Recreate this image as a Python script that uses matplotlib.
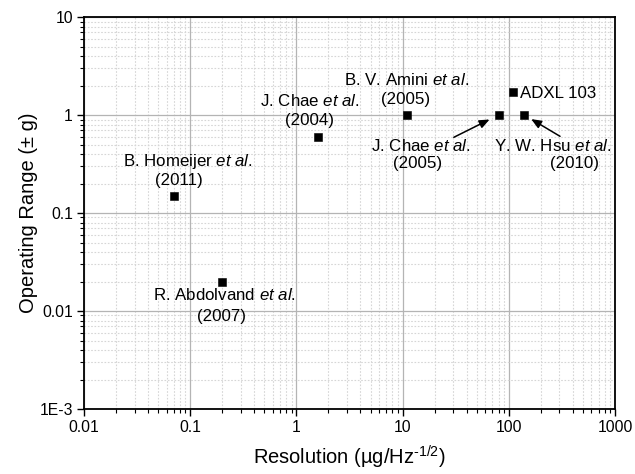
import matplotlib
matplotlib.use("Agg")
import matplotlib.pyplot as plt
from matplotlib.ticker import LogLocator, FixedLocator, FixedFormatter, NullFormatter

plt.rcParams["font.family"] = ["Liberation Sans", "DejaVu Sans"]
plt.rcParams["mathtext.fontset"] = "custom"
plt.rcParams["mathtext.rm"] = "Liberation Sans"
plt.rcParams["mathtext.it"] = "Liberation Sans:italic"
plt.rcParams["mathtext.bf"] = "Liberation Sans:bold"

# Accelerator survey: noise resolution vs. operating range
names = ["B. Homeijer", "R. Abdolvand", "J. Chae", "B. V. Amini",
         "J. Chae", "ADXL 103", "Y. W. Hsu"]
years = ["2011", "2007", "2004", "2005", "2005", None, "2010"]
resolution = [0.07, 0.2, 1.6, 11.0, 80.0, 110.0, 140.0]      # ug/sqrt(Hz)
op_range = [0.15, 0.02, 0.6, 1.0, 1.0, 1.7, 1.0]             # +/- g

x_ticks = [0.01, 0.1, 1, 10, 100, 1000]
x_ticklabels = ["0.01", "0.1", "1", "10", "100", "1000"]
y_ticks = [1e-3, 0.01, 0.1, 1, 10]
y_ticklabels = ["1E-3", "0.01", "0.1", "1", "10"]

DPI = 100
fig = plt.figure(figsize=(6.35, 4.74), dpi=DPI)
ax = fig.add_axes([0.1323, 0.1371, 0.9685 - 0.1323, 0.9641 - 0.1371])
ax.set_xscale("log")
ax.set_yscale("log")
ax.set_xlim(0.01, 1000)
ax.set_ylim(1e-3, 10)

ax.grid(True, which="major", color="#b4b4b4", lw=0.9, ls="-", zorder=0)
ax.grid(True, which="minor", color="#d6d6d6", lw=0.8, ls=(0, (1.5, 1.5)), zorder=0)
ax.set_axisbelow(True)

ax.xaxis.set_major_locator(FixedLocator(x_ticks))
ax.xaxis.set_major_formatter(FixedFormatter(x_ticklabels))
ax.yaxis.set_major_locator(FixedLocator(y_ticks))
ax.yaxis.set_major_formatter(FixedFormatter(y_ticklabels))
for axis in (ax.xaxis, ax.yaxis):
    axis.set_minor_locator(LogLocator(base=10, subs=range(2, 10), numticks=20))
    axis.set_minor_formatter(NullFormatter())
ax.tick_params(which="major", direction="out", length=5, width=1.0,
               labelsize=11.3, top=False, right=False, pad=3)
ax.tick_params(which="minor", direction="out", length=3, width=0.8,
               top=False, right=False)
for s in ax.spines.values():
    s.set_linewidth(1.3)

ax.plot(resolution, op_range, ls="none", marker="s", ms=6.3, mew=0.4,
        color="black", zorder=5, clip_on=False)

ax.set_xlabel("Resolution (µg/Hz$^{\\text{-1/2}}$)", fontsize=14.5, labelpad=6)
ax.set_ylabel("Operating Range (± g)", fontsize=14.5, labelpad=1)

# label line offsets from each marker, in pixels (dx right, dy down)
line1_off = [(14, -34.5), (2.5, 13.5), (-8, -35.5), (0, -35),
             (-78, 30.5), (6.5, 1), (28.5, 30.5)]
line2_off = [(5, -15.5), (-0.5, 34.5), (-9, -16.5), (-1, -15.5),
             (-81, 48), None, (50.5, 48)]
px2pt = 72.0 / DPI
fs = 12.2

for i, (nm, yr) in enumerate(zip(names, years)):
    x, y = resolution[i], op_range[i]
    dx, dy = line1_off[i]
    if yr is None:
        ax.annotate(nm, (x, y), xytext=(dx * px2pt, -dy * px2pt),
                    textcoords="offset points", ha="left", va="center",
                    fontsize=fs, zorder=6)
        continue
    ax.annotate(nm + r" $\it{et\ al.}$", (x, y), xytext=(dx * px2pt, -dy * px2pt),
                textcoords="offset points", ha="center", va="center",
                fontsize=fs, zorder=6)
    dx2, dy2 = line2_off[i]
    ax.annotate(f"({yr})", (x, y), xytext=(dx2 * px2pt, -dy2 * px2pt),
                textcoords="offset points", ha="center", va="center",
                fontsize=fs, zorder=6)

# pointer arrows for the two crowded points near 100 ug/sqrt(Hz)
arrows = {4: ((-44.7, 22.3), 10), 6: ((35.7, 21.3), 8)}
for i, ((tx, ty), shrink) in arrows.items():
    ax.annotate("", (resolution[i], op_range[i]),
                xytext=(tx * px2pt, -ty * px2pt), textcoords="offset points",
                arrowprops=dict(arrowstyle="-|>,head_length=0.6,head_width=0.25",
                                color="black", lw=1.1, shrinkA=0,
                                shrinkB=shrink * px2pt),
                zorder=6)

fig.savefig("out.png", dpi=DPI)
